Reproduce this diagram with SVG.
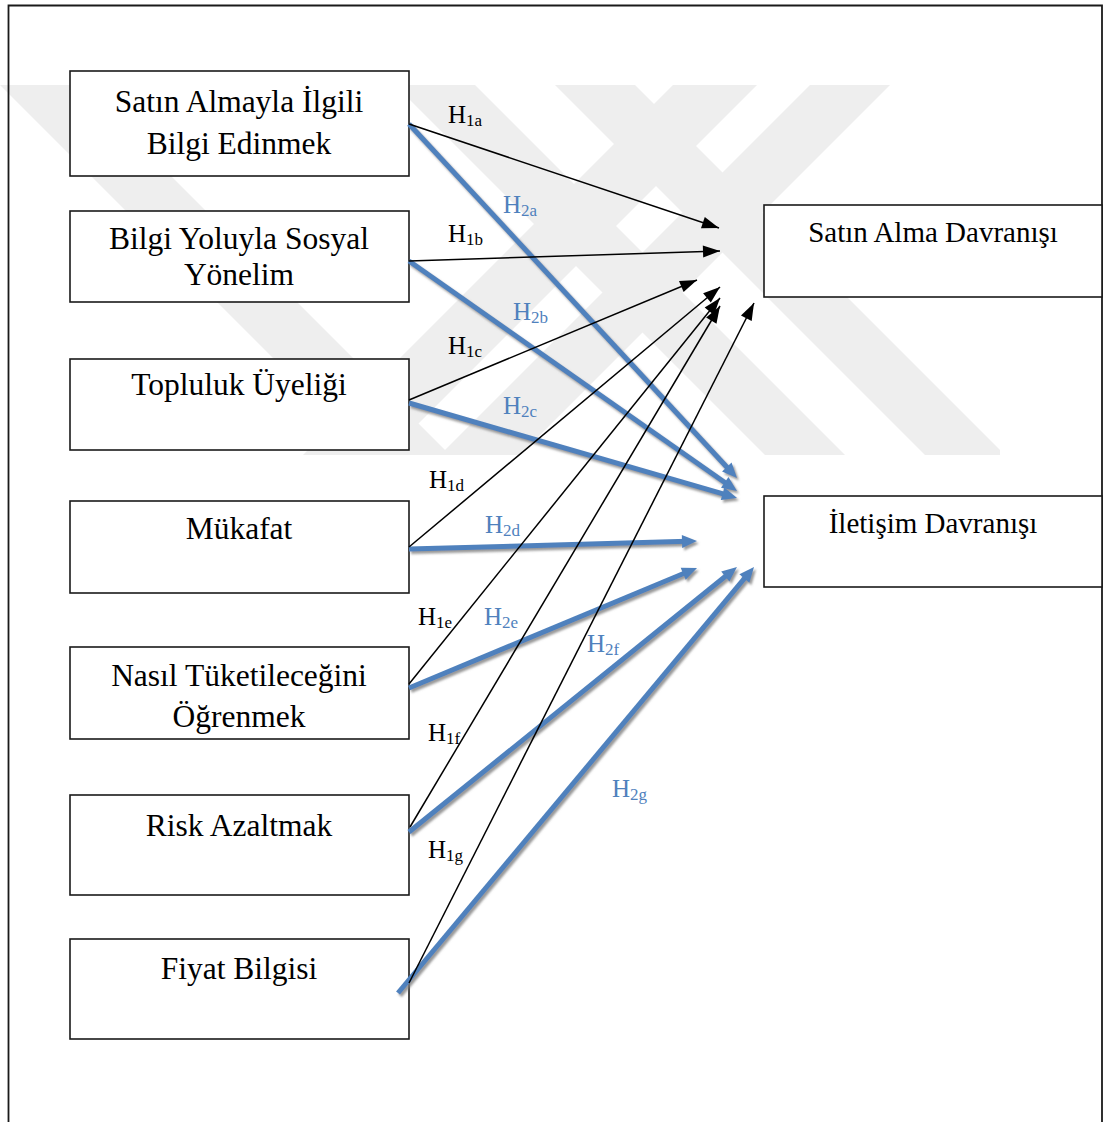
<svg xmlns="http://www.w3.org/2000/svg" width="1105" height="1122" viewBox="0 0 1105 1122">
  <style>
    .frame { fill: none; stroke: #1a1a1a; stroke-width: 1.8; }
    .box { fill: #ffffff; stroke: #1a1a1a; stroke-width: 1.6; }
    .t { font-family: "Liberation Serif", "Times New Roman", serif; fill: #000000; }
    .big { font-size: 31.5px; text-anchor: middle; }
    .rt { font-size: 29px; text-anchor: middle; }
    .h { font-size: 25px; }
    .sub { font-size: 17px; }
    .blue { fill: #4F81BD; }
    .k { stroke: #000000; stroke-width: 1.5; fill: none; marker-end: url(#ak); }
    .b { stroke: #4F81BD; stroke-width: 5; fill: none; marker-end: url(#ab); }
    .wm { fill: #EEEEEE; }
  </style>
  <defs>
    <marker id="ak" markerUnits="userSpaceOnUse" markerWidth="17" markerHeight="12" refX="17" refY="6" orient="auto" overflow="visible">
      <path d="M0,0 L17,6 L0,12 z" fill="#000000"/>
    </marker>
    <marker id="ab" markerUnits="userSpaceOnUse" markerWidth="15" markerHeight="13" refX="5" refY="6.5" orient="auto" overflow="visible">
      <path d="M0,0 L15,6.5 L0,13 z" fill="#4F81BD"/>
    </marker>
    <filter id="sh" filterUnits="userSpaceOnUse" x="0" y="0" width="1105" height="1122">
      <feDropShadow dx="2" dy="2.5" stdDeviation="0.8" flood-color="#7f7f7f" flood-opacity="0.8"/>
    </filter>
    <clipPath id="wmclip">
      <rect x="0" y="85" width="1000" height="370"/>
    </clipPath>
  </defs>

  <rect width="1105" height="1122" fill="#ffffff"/>

  <!-- faint background emblem made of diagonal bands -->
  <g id="emblem" class="wm" clip-path="url(#wmclip)">
    <polygon points="0,85 80,85 450,455 370,455"/>
    <polygon points="395,85 475,85 845,455 765,455"/>
    <polygon points="555,85 635,85 1005,455 925,455"/>
    <polygon points="673,85 757,85 387,455 303,455"/>
    <polygon points="810,85 890,85 520,455 440,455"/>
  </g>

  <!-- outer frame -->
  <path class="frame" d="M8.5,1122 V5.5 H1102 V1122"/>

  <!-- source constructs -->
  <g id="node-satin-almayla">
    <rect class="box" x="70" y="71" width="339" height="105"/>
    <text class="t big" x="239" y="111.5">Satın Almayla İlgili</text>
    <text class="t big" x="239" y="154">Bilgi Edinmek</text>
  </g>
  <g id="node-sosyal-yonelim">
    <rect class="box" x="70" y="211" width="339" height="91"/>
    <text class="t big" x="239" y="248.5">Bilgi Yoluyla Sosyal</text>
    <text class="t big" x="239" y="284.5">Yönelim</text>
  </g>
  <g id="node-topluluk">
    <rect class="box" x="70" y="359" width="339" height="91"/>
    <text class="t big" x="239" y="395">Topluluk Üyeliği</text>
  </g>
  <g id="node-mukafat">
    <rect class="box" x="70" y="501" width="339" height="92"/>
    <text class="t big" x="239" y="539">Mükafat</text>
  </g>
  <g id="node-tuketim">
    <rect class="box" x="70" y="647" width="339" height="92"/>
    <text class="t big" x="239" y="685.5">Nasıl Tüketileceğini</text>
    <text class="t big" x="239" y="727">Öğrenmek</text>
  </g>
  <g id="node-risk">
    <rect class="box" x="70" y="795" width="339" height="100"/>
    <text class="t big" x="239" y="835.5">Risk Azaltmak</text>
  </g>
  <g id="node-fiyat">
    <rect class="box" x="70" y="939" width="339" height="100"/>
    <text class="t big" x="239" y="979">Fiyat Bilgisi</text>
  </g>

  <!-- outcome constructs -->
  <g id="node-satin-alma-davranisi">
    <rect class="box" x="764" y="205" width="338" height="92"/>
    <text class="t rt" x="933" y="241.5">Satın Alma Davranışı</text>
  </g>
  <g id="node-iletisim-davranisi">
    <rect class="box" x="764" y="496" width="338" height="91"/>
    <text class="t rt" x="933" y="533">İletişim Davranışı</text>
  </g>

  <!-- hypothesis paths -->
  <g id="connectors">
    <g id="h2-paths" filter="url(#sh)">
      <path class="b" d="M409,124 L730.2,470.7"/>
      <path class="b" d="M409,261 L728.8,485.3"/>
      <path class="b" d="M409,403 L727.4,495.2"/>
      <path class="b" d="M409,549 L687,541.3"/>
      <path class="b" d="M409,688 L687.8,571.8"/>
      <path class="b" d="M409,832 L729.2,573.3"/>
      <path class="b" d="M398,993 L747.6,574.7"/>
    </g>
    <g id="h1-paths">
      <path class="k" d="M409,124 L719,228"/>
      <path class="k" d="M409,261 L720,251"/>
      <path class="k" d="M409,400 L697,280"/>
      <path class="k" d="M409,547 L720,287"/>
      <path class="k" d="M409,684 L720,298"/>
      <path class="k" d="M410,827 L720,306"/>
      <path class="k" d="M409,983 L754,303"/>
    </g>
    <g id="path-labels">
      <text class="t h" x="448" y="123">H<tspan class="sub" dy="3">1a</tspan></text>
      <text class="t h" x="448" y="242">H<tspan class="sub" dy="3">1b</tspan></text>
      <text class="t h" x="448" y="354">H<tspan class="sub" dy="3">1c</tspan></text>
      <text class="t h" x="429" y="488">H<tspan class="sub" dy="3">1d</tspan></text>
      <text class="t h" x="418" y="625">H<tspan class="sub" dy="3">1e</tspan></text>
      <text class="t h" x="428" y="741">H<tspan class="sub" dy="3">1f</tspan></text>
      <text class="t h" x="428" y="858">H<tspan class="sub" dy="3">1g</tspan></text>
      <text class="t h blue" x="503" y="213">H<tspan class="sub" dy="3">2a</tspan></text>
      <text class="t h blue" x="513" y="320">H<tspan class="sub" dy="3">2b</tspan></text>
      <text class="t h blue" x="503" y="414">H<tspan class="sub" dy="3">2c</tspan></text>
      <text class="t h blue" x="485" y="533">H<tspan class="sub" dy="3">2d</tspan></text>
      <text class="t h blue" x="484" y="625">H<tspan class="sub" dy="3">2e</tspan></text>
      <text class="t h blue" x="587" y="652">H<tspan class="sub" dy="3">2f</tspan></text>
      <text class="t h blue" x="612" y="797">H<tspan class="sub" dy="3">2g</tspan></text>
    </g>
  </g>
</svg>
